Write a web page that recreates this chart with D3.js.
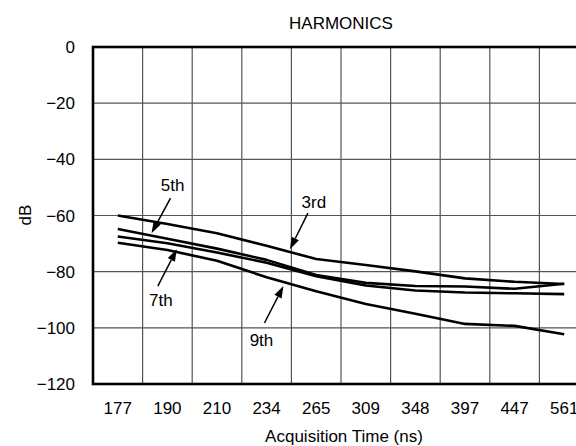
<!DOCTYPE html>
<html>
<head>
<meta charset="utf-8">
<script src="https://cdn.jsdelivr.net/npm/d3@7"></script>
<style>
  body { margin: 0; background: #fff; }
  text { font-family: "Liberation Sans", Arial, sans-serif; fill: #000; }
</style>
</head>
<body>
<div id="chart"></div>
<script>
// acquisition time categories (ns)
var times = ["177", "190", "210", "234", "265", "309", "348", "397", "447", "561"];
// harmonic levels in dB
var third   = [-60, -63, -66.3, -70.8, -75.5, -77.6, -79.9, -82.4, -83.6, -84.4];
var fifth   = [-64.8, -68.3, -71.8, -75.8, -81.2, -84.0, -85.1, -85.3, -86.1, -84.3];
var seventh = [-67.5, -69.9, -73.2, -76.8, -81.6, -84.9, -86.7, -87.4, -87.7, -88.0];
var ninth   = [-69.7, -72.3, -76.1, -82.0, -87.0, -91.5, -95.0, -98.6, -99.3, -102.3];
var yTicks = [0, -20, -40, -60, -80, -100, -120];

var series = [
  {name: "3rd", values: third},
  {name: "5th", values: fifth},
  {name: "7th", values: seventh},
  {name: "9th", values: ninth}
];

// label, tip (band index, dB), tail offset, text offset
var notes = [
  ["5th", 0.68, -66.3, 19, -35, 2, -7],
  ["7th", 1.19, -72.0, -19, 37, 3, 20],
  ["9th", 3.34, -85.1, -19, 37, -3, 23],
  ["3rd", 3.47, -72.0, 18, -36, 6, -5]
];

var width = 576, height = 446;
var margin = {top: 47, left: 93, bottom: 62, right: -13};

var svg = d3.select("#chart").append("svg")
  .attr("width", width)
  .attr("height", height);

var x = d3.scaleBand()
  .domain(times)
  .range([margin.left, width - margin.right]);

var y = d3.scaleLinear()
  .domain([-120, 0])
  .range([height - margin.bottom, margin.top]);

var bw = x.bandwidth();
function xc(i) { return margin.left + bw * (i + 0.5); }

// grid
svg.append("g").selectAll("line.vg")
  .data(times.slice(1))
  .enter().append("line")
  .attr("x1", d => x(d)).attr("x2", d => x(d))
  .attr("y1", y(0)).attr("y2", y(-120))
  .attr("stroke", "#555").attr("stroke-width", 1.2);

svg.append("g").selectAll("line.hg")
  .data(yTicks.filter(d => d != 0 && d != -120))
  .enter().append("line")
  .attr("x1", x.range()[0]).attr("x2", x.range()[1])
  .attr("y1", d => y(d)).attr("y2", d => y(d))
  .attr("stroke", "#555").attr("stroke-width", 1.2);

// frame
svg.append("rect")
  .attr("x", x.range()[0]).attr("y", y(0))
  .attr("width", x.range()[1] - x.range()[0])
  .attr("height", y(-120) - y(0))
  .attr("fill", "none").attr("stroke", "#000").attr("stroke-width", 2.6);

// y tick labels
svg.append("g").selectAll("text")
  .data(yTicks)
  .enter().append("text")
  .attr("x", 75)
  .attr("y", d => y(d))
  .attr("dy", "0.36em")
  .style("text-anchor", "end")
  .style("font-size", "17px")
  .text(d => d3.format("d")(d));

// x tick labels
svg.append("g").selectAll("text")
  .data(times)
  .enter().append("text")
  .attr("x", d => x(d) + bw / 2)
  .attr("y", 414)
  .style("text-anchor", "middle")
  .style("font-size", "17px")
  .text(d => d);

svg.append("text")
  .attr("x", 341).attr("y", 28.5)
  .style("text-anchor", "middle")
  .style("font-size", "17px")
  .text("HARMONICS");

svg.append("text")
  .attr("x", 344).attr("y", 441.5)
  .style("text-anchor", "middle")
  .style("font-size", "17px")
  .text("Acquisition Time (ns)");

svg.append("text")
  .attr("transform", "translate(31,215) rotate(-90)")
  .style("text-anchor", "middle")
  .style("font-size", "17px")
  .text("dB");

// curves
var line = d3.line()
  .x((d, i) => xc(i))
  .y(d => y(d));

svg.append("g").selectAll("path")
  .data(series)
  .enter().append("path")
  .attr("d", d => line(d.values))
  .attr("fill", "none")
  .attr("stroke", "#000")
  .attr("stroke-width", 2.6)
  .attr("stroke-linejoin", "round");

// annotations with arrows
var g = svg.append("g");
notes.forEach(n => {
  var tx = xc(n[1]), ty = y(n[2]);
  var sx = tx + n[3], sy = ty + n[4];
  var len = Math.sqrt(n[3] * n[3] + n[4] * n[4]);
  var ux = -n[3] / len, uy = -n[4] / len;
  var hl = 12, hw = 4;
  var bx = tx - ux * hl, by = ty - uy * hl;
  g.append("line")
    .attr("x1", sx).attr("y1", sy)
    .attr("x2", bx).attr("y2", by)
    .attr("stroke", "#000").attr("stroke-width", 1.5);
  g.append("path")
    .attr("d", "M" + tx + "," + ty +
      "L" + (bx - uy * hw) + "," + (by + ux * hw) +
      "L" + (bx + uy * hw) + "," + (by - ux * hw) + "Z")
    .attr("fill", "#000");
  g.append("text")
    .attr("x", sx + n[5]).attr("y", sy + n[6])
    .style("text-anchor", "middle")
    .style("font-size", "17px")
    .text(n[0]);
});
</script>
</body>
</html>
